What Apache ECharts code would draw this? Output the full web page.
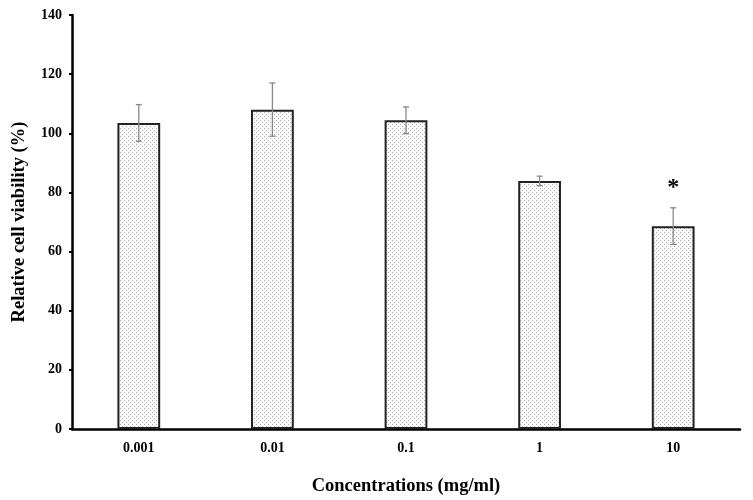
<!DOCTYPE html>
<html>
<head>
<meta charset="utf-8">
<script src="https://cdn.jsdelivr.net/npm/echarts@6/dist/echarts.min.js"></script>
<style>
  html, body { margin: 0; padding: 0; background: #fff; }
  #main { width: 753px; height: 500px; }
</style>
</head>
<body>
<div id="main"></div>
<script>
    var categories = ['0.001', '0.01', '0.1', '1', '10'];
    var viability = [103.5, 108.0, 104.4, 83.9, 68.6];
    var errors = [6.2, 9.0, 4.5, 1.6, 6.2];
    var marks = ['', '', '', '', '*'];
    var yTicks = [0, 20, 40, 60, 80, 100, 120, 140];

    // dotted fill for the bars
    var dots = document.createElement('canvas');
    dots.width = 4;
    dots.height = 4;
    (function (ctx) {
        ctx.fillStyle = '#fbfbfb';
        ctx.fillRect(0, 0, 4, 4);
        ctx.fillStyle = '#adadad';
        ctx.fillRect(0, 0, 1, 1);
        ctx.fillRect(2, 2, 1, 1);
    })(dots.getContext('2d'));

    var font = '"Liberation Serif", "Times New Roman", serif';
    var chart = echarts.init(document.getElementById('main'));
    chart.setOption({
        animation: false,
        grid: {left: 72, right: 13, top: 15, bottom: 71, outerBoundsMode: 'none'},
        xAxis: {
            type: 'category', data: categories,
            name: 'Concentrations (mg/ml)', nameLocation: 'middle', nameGap: 48,
            nameTextStyle: {fontFamily: font, fontWeight: 'bold', fontSize: 18.5, color: '#000'},
            axisLine: {lineStyle: {color: '#000', width: 2.5}},
            axisTick: {alignWithLabel: true, length: 3, lineStyle: {color: '#000', width: 2}},
            axisLabel: {fontFamily: font, fontWeight: 'bold', fontSize: 14, color: '#000', margin: 12}
        },
        yAxis: {
            type: 'value', min: yTicks[0], max: yTicks[yTicks.length - 1], interval: 20,
            name: 'Relative cell viability (%)', nameLocation: 'middle', nameGap: 43,
            nameTextStyle: {fontFamily: font, fontWeight: 'bold', fontSize: 18.5, color: '#000'},
            axisLine: {show: true, lineStyle: {color: '#000', width: 2.5}},
            axisTick: {show: true, length: 3, lineStyle: {color: '#000', width: 2}},
            splitLine: {show: false},
            axisLabel: {fontFamily: font, fontWeight: 'bold', fontSize: 14, color: '#000', margin: 10}
        },
        series: [
            {
                type: 'bar', data: viability, barWidth: '32%',
                itemStyle: {color: {image: dots, repeat: 'repeat'}, borderColor: '#222', borderWidth: 2}
            },
            {
                type: 'custom',
                data: viability.map(function (v, i) { return [i, v - errors[i], v + errors[i], marks[i]]; }),
                renderItem: function (params, api) {
                    var lo = api.coord([api.value(0), api.value(1)]);
                    var hi = api.coord([api.value(0), api.value(2)]);
                    var style = {stroke: '#888', lineWidth: 1.3};
                    var cap = 3;
                    var children = [
                        {type: 'line', shape: {x1: hi[0], y1: hi[1], x2: lo[0], y2: lo[1]}, style: style},
                        {type: 'line', shape: {x1: hi[0] - cap, y1: hi[1], x2: hi[0] + cap, y2: hi[1]}, style: style},
                        {type: 'line', shape: {x1: lo[0] - cap, y1: lo[1], x2: lo[0] + cap, y2: lo[1]}, style: style}
                    ];
                    var mark = marks[params.dataIndex];
                    if (mark) {
                        children.push({
                            type: 'text',
                            style: {
                                text: mark, x: hi[0], y: hi[1] - 8,
                                align: 'center', verticalAlign: 'bottom',
                                font: 'bold 24px ' + font, fill: '#000'
                            }
                        });
                    }
                    return {type: 'group', children: children};
                },
                z: 5
            }
        ]
    });
</script>
</body>
</html>
